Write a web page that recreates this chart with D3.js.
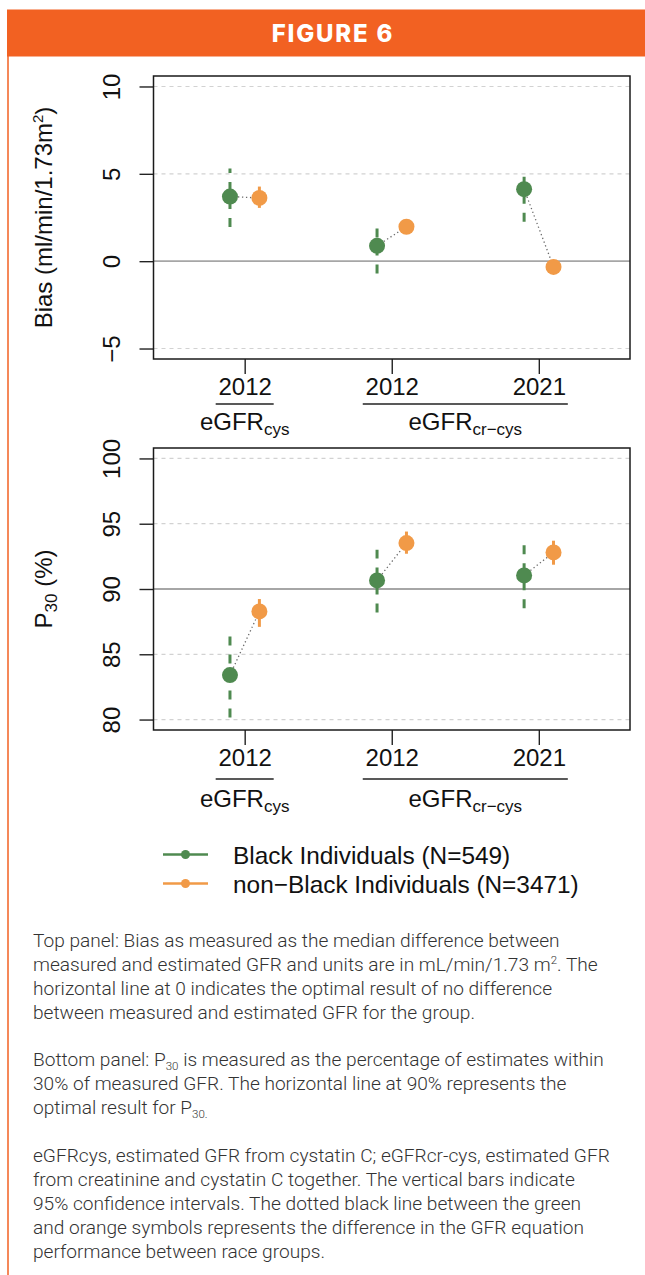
<!DOCTYPE html>
<html>
<head>
<meta charset="utf-8">
<script src="https://cdn.jsdelivr.net/npm/d3@7"></script>
<style>
  html, body { margin: 0; padding: 0; background: #ffffff; }
  svg { display: block; }
</style>
</head>
<body>
<svg id="fig" width="645" height="1275"></svg>
<script>
// ---- data ----
const categoryPos = [1, 2, 3];
const years = ["2012", "2012", "2021"];
const equationBase = "eGFR";
const equationSubs = ["cys", "cr\u2212cys"];
const equationSpans = [[1, 1], [2, 3]];
const seriesNames = ["Black Individuals (N=549)", "non\u2212Black Individuals (N=3471)"];

// Bias (ml/min/1.73m²): median and 95% CI
const biasBlack      = [3.70, 0.88, 4.12];
const biasBlackLo    = [1.95, -0.70, 2.26];
const biasBlackHi    = [5.30, 2.00, 4.90];
const biasNonBlack   = [3.62, 1.97, -0.33];
const biasNonBlackLo = [3.05, 1.60, -0.70];
const biasNonBlackHi = [4.27, 2.35, 0.05];
const biasTicks = [-5, 0, 5, 10];

// P30 (%): estimate and 95% CI
const p30Black      = [83.41, 90.66, 91.04];
const p30BlackLo    = [80.16, 88.20, 88.53];
const p30BlackHi    = [86.50, 93.00, 93.52];
const p30NonBlack   = [88.28, 93.52, 92.80];
const p30NonBlackLo = [87.10, 92.70, 91.86];
const p30NonBlackHi = [89.23, 94.40, 93.70];
const p30Ticks = [80, 85, 90, 95, 100];

// ---- styling ----
const W = 645;
const BRAND = "#f26122";
const GREEN = "#4f8a50";
const ORANGE = "#f19a47";
const CHART_FONT = "'Liberation Sans', Arial, Helvetica, sans-serif";
const TEXT_FONT = "Roboto, 'Open Sans', sans-serif";

const svg = d3.select("#fig");

// header band and side rule
svg.append("rect").attr("x", 7).attr("y", 9.5).attr("width", W - 7).attr("height", 47).attr("fill", BRAND);
svg.append("text")
  .attr("x", 333).attr("y", 42)
  .attr("text-anchor", "middle")
  .attr("font-family", "Inter, Roboto, sans-serif")
  .attr("font-weight", 800)
  .attr("font-size", 24)
  .attr("letter-spacing", 1.8)
  .attr("fill", "#ffffff")
  .text("FIGURE 6");
svg.append("line").attr("x1", 8).attr("x2", 8).attr("y1", 56).attr("y2", 1275)
  .attr("stroke", BRAND).attr("stroke-width", 1.5);

// shared horizontal scale for both panels
const x = d3.scaleLinear().domain([0.38, 3.62]).range([153.5, 630]);
const dx = 0.1; // horizontal dodge between the two groups

function drawPanel(cfg) {
  const y = d3.scaleLinear().domain(cfg.domain).range([cfg.bottom, cfg.top]);
  const g = svg.append("g");
  const [xl, xr] = x.range();

  // dashed guide lines
  g.selectAll("line.grid").data(cfg.ticks.filter(t => t !== cfg.ref)).join("line")
    .attr("class", "grid")
    .attr("x1", xl).attr("x2", xr)
    .attr("y1", d => y(d)).attr("y2", d => y(d))
    .attr("stroke", "#d2d2d2").attr("stroke-width", 1.2).attr("stroke-dasharray", "4,4");

  // reference line
  g.append("line")
    .attr("x1", xl).attr("x2", xr).attr("y1", y(cfg.ref)).attr("y2", y(cfg.ref))
    .attr("stroke", "#a6a6a6").attr("stroke-width", 1.8);

  // y axis
  const ya = g.append("g").attr("transform", `translate(${xl},0)`)
    .call(d3.axisLeft(y).tickValues(cfg.ticks).tickSize(14).tickSizeOuter(0));
  ya.select(".domain").remove();
  ya.selectAll(".tick line").attr("stroke", "#222").attr("stroke-width", 1.4);
  ya.selectAll(".tick text")
    .attr("transform", "rotate(-90)")
    .attr("x", 0).attr("y", -33.5).attr("dy", 0)
    .attr("text-anchor", "middle")
    .attr("font-size", 24).attr("font-family", CHART_FONT).attr("fill", "#111");

  // x axis
  const xa = g.append("g").attr("transform", `translate(0,${cfg.bottom})`)
    .call(d3.axisBottom(x).tickValues(categoryPos).tickFormat((d, i) => years[i])
      .tickSize(15).tickSizeOuter(0));
  xa.select(".domain").remove();
  xa.selectAll(".tick line").attr("stroke", "#222").attr("stroke-width", 1.4);
  xa.selectAll(".tick text")
    .attr("y", 36).attr("dy", 0)
    .attr("font-size", 24).attr("font-family", CHART_FONT).attr("fill", "#111");

  // equation group labels with underline
  equationSpans.forEach((s, i) => {
    const x0 = x(s[0]) - 29, x1 = x(s[1]) + 29;
    g.append("line")
      .attr("x1", x0).attr("x2", x1)
      .attr("y1", cfg.bottom + cfg.ulOff).attr("y2", cfg.bottom + cfg.ulOff)
      .attr("stroke", "#222").attr("stroke-width", 1.5);
    const t = g.append("text")
      .attr("x", (x(s[0]) + x(s[1])) / 2)
      .attr("y", cfg.bottom + cfg.lblOff)
      .attr("text-anchor", "middle")
      .attr("font-family", CHART_FONT).attr("font-size", 24).attr("fill", "#111");
    t.append("tspan").text(equationBase);
    t.append("tspan").attr("font-size", 17).attr("dy", 5).text(equationSubs[i]);
  });

  // y title
  const yt = g.append("text")
    .attr("transform", `translate(52,${(cfg.top + cfg.bottom) / 2}) rotate(-90)`)
    .attr("text-anchor", "middle")
    .attr("font-family", CHART_FONT).attr("font-size", 24).attr("fill", "#111");
  cfg.title(yt);

  // plot frame
  g.append("rect")
    .attr("x", xl).attr("y", cfg.top).attr("width", xr - xl).attr("height", cfg.bottom - cfg.top)
    .attr("fill", "none").attr("stroke", "#1a1a1a").attr("stroke-width", 1.5);

  const rows = categoryPos.map((c, i) => ({
    c,
    b: cfg.black[i], bLo: cfg.blackLo[i], bHi: cfg.blackHi[i],
    n: cfg.nonBlack[i], nLo: cfg.nonBlackLo[i], nHi: cfg.nonBlackHi[i]
  }));

  // dotted connector between the two groups
  g.selectAll("line.link").data(rows).join("line")
    .attr("class", "link")
    .attr("x1", d => x(d.c - dx)).attr("y1", d => y(d.b))
    .attr("x2", d => x(d.c + dx)).attr("y2", d => y(d.n))
    .attr("stroke", "#6a6a6a").attr("stroke-width", 1.3).attr("stroke-dasharray", "1.3,2.7");

  // 95% confidence intervals
  g.selectAll("path.ciB").data(rows).join("path")
    .attr("class", "ciB")
    .attr("d", d => `M${x(d.c - dx)},${y(d.bLo)}L${x(d.c - dx)},${y(d.bHi)}`)
    .attr("stroke", GREEN).attr("stroke-width", 3).attr("stroke-dasharray", "9,9").attr("fill", "none");
  g.selectAll("path.ciN").data(rows).join("path")
    .attr("class", "ciN")
    .attr("d", d => `M${x(d.c + dx)},${y(d.nLo)}L${x(d.c + dx)},${y(d.nHi)}`)
    .attr("stroke", ORANGE).attr("stroke-width", 3).attr("fill", "none");

  // point estimates
  g.selectAll("circle.ptB").data(rows).join("circle")
    .attr("class", "ptB")
    .attr("cx", d => x(d.c - dx)).attr("cy", d => y(d.b)).attr("r", 8).attr("fill", GREEN);
  g.selectAll("circle.ptN").data(rows).join("circle")
    .attr("class", "ptN")
    .attr("cx", d => x(d.c + dx)).attr("cy", d => y(d.n)).attr("r", 8).attr("fill", ORANGE);
}

drawPanel({
  top: 76, bottom: 359, domain: [-5.6, 10.6], ticks: biasTicks, ref: 0,
  ulOff: 45, lblOff: 71,
  black: biasBlack, blackLo: biasBlackLo, blackHi: biasBlackHi,
  nonBlack: biasNonBlack, nonBlackLo: biasNonBlackLo, nonBlackHi: biasNonBlackHi,
  title: t => {
    t.append("tspan").text("Bias (ml/min/1.73m");
    t.append("tspan").attr("font-size", 15).attr("dy", -9).text("2");
    t.append("tspan").attr("dy", 9).text(")");
  }
});

drawPanel({
  top: 448, bottom: 730, domain: [79.2, 100.8], ticks: p30Ticks, ref: 90,
  ulOff: 49, lblOff: 76.5,
  black: p30Black, blackLo: p30BlackLo, blackHi: p30BlackHi,
  nonBlack: p30NonBlack, nonBlackLo: p30NonBlackLo, nonBlackHi: p30NonBlackHi,
  title: t => {
    t.append("tspan").text("P");
    t.append("tspan").attr("font-size", 17).attr("dy", 5).text("30");
    t.append("tspan").attr("dy", -5).text(" (%)");
  }
});

// legend
const legendColors = [GREEN, ORANGE];
const legendY = [854.5, 883.5];
seriesNames.forEach((name, i) => {
  const lg = svg.append("g");
  lg.append("line").attr("x1", 163).attr("x2", 208).attr("y1", legendY[i]).attr("y2", legendY[i])
    .attr("stroke", legendColors[i]).attr("stroke-width", 2.5);
  lg.append("circle").attr("cx", 185.5).attr("cy", legendY[i]).attr("r", 4.5).attr("fill", legendColors[i]);
  lg.append("text").attr("x", 233).attr("y", legendY[i] + 9)
    .attr("font-family", CHART_FONT).attr("font-size", 24.4).attr("fill", "#111")
    .text(name);
});

// explanatory notes
const notes = [
  { y: 946.5, parts: [{ t: "Top panel: Bias as measured as the median difference between" }] },
  { y: 970.5, parts: [{ t: "measured and estimated GFR and units are in mL/min/1.73 m" }, { t: "2", s: "sup" }, { t: ". The" }] },
  { y: 994.5, parts: [{ t: "horizontal line at 0 indicates the optimal result of no difference" }] },
  { y: 1018.5, parts: [{ t: "between measured and estimated GFR for the group." }] },
  { y: 1066, parts: [{ t: "Bottom panel: P" }, { t: "30", s: "sub" }, { t: " is measured as the percentage of estimates within" }] },
  { y: 1090, parts: [{ t: "30% of measured GFR. The horizontal line at 90% represents the" }] },
  { y: 1114, parts: [{ t: "optimal result for P" }, { t: "30", s: "sub" }, { t: ".", s: "sub" }] },
  { y: 1162, parts: [{ t: "eGFRcys, estimated GFR from cystatin C; eGFRcr-cys, estimated GFR" }] },
  { y: 1186, parts: [{ t: "from creatinine and cystatin C together. The vertical bars indicate" }] },
  { y: 1210, parts: [{ t: "95% confidence intervals. The dotted black line between the green" }] },
  { y: 1234, parts: [{ t: "and orange symbols represents the difference in the GFR equation" }] },
  { y: 1258, parts: [{ t: "performance between race groups." }] }
];
const noteG = svg.append("g")
  .attr("font-family", TEXT_FONT).attr("font-weight", 300).attr("font-size", 19.1).attr("fill", "#333333");
notes.forEach(line => {
  const t = noteG.append("text").attr("x", 33).attr("y", line.y);
  let shift = 0;
  line.parts.forEach(p => {
    const target = p.s === "sub" ? 4 : p.s === "sup" ? -7 : 0;
    const ts = t.append("tspan").attr("dy", target - shift).text(p.t);
    if (p.s) ts.attr("font-size", 11.5);
    shift = target;
  });
});
</script>
</body>
</html>
